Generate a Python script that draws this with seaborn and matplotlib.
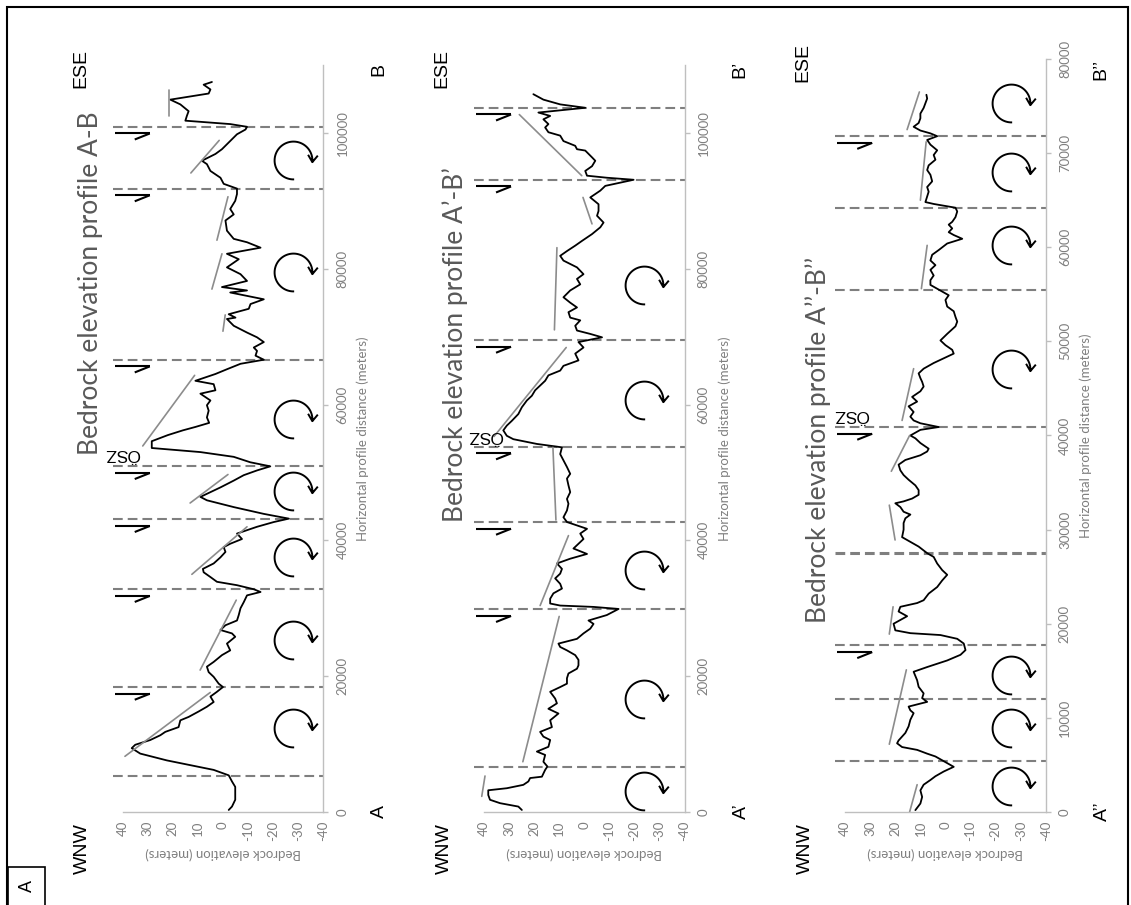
import numpy as np
import matplotlib
matplotlib.use("Agg")
import matplotlib.pyplot as plt
from matplotlib.path import Path
from matplotlib.patches import Rectangle
import seaborn as sns

# ---------------- data (distance in km, elevation in m) ----------------
p1_dist = [0.3,0.8,1.8,3.7,4.5,5.4,6.2,6.7,7.6,8.6,9.4,9.9,10.6,11.3,11.8,12.5,13.5,14.0,14.8,15.5,16.2,17.0,17.7,18.4,18.9,19.9,20.6,21.4,22.1,23.1,23.8,24.8,25.8,26.3,26.8,27.5,28.2,29.0,30.0,30.9,31.9,32.4,32.8,33.4,33.9,34.6,35.3,35.8,36.6,37.5,38.3,39.0,39.5,40.2,41.0,42.0,42.7,43.2,43.9,44.9,45.9,46.4,47.1,47.8,48.8,49.6,50.3,50.9,51.5,52.3,53.0,53.6,54.6,55.5,56.2,56.7,57.3,58.1,59.1,59.9,60.6,61.6,62.1,63.0,63.5,64.5,65.2,66.0,66.6,67.2,67.9,68.4,69.2,69.9,70.6,71.6,72.6,72.8,73.3,74.1,74.8,75.5,76.5,76.8,77.3,78.2,79.2,80.2,80.9,81.4,82.2,83.1,83.9,84.4,85.6,87.1,88.0,88.8,90.0,91.0,91.8,92.5,93.4,94.4,95.4,95.9,96.9,97.6,98.8,99.8,100.5,100.9,101.3,101.8,102.5,103.2,104.2,104.9,105.8,106.4,107.1,107.5]
p1_elev = [-2.3,-3.6,-4.9,-4.9,-3.6,-2.3,3.7,10.4,22.4,33,36.4,35,29,25,23,17.7,17,13.7,9.7,6.4,3.7,5,2.4,0,1.7,3.7,5.7,6.4,3.7,0.4,-2.9,-1.6,-4.9,-3.6,1,-1,-5.6,-6.3,-7,-8.3,-9.6,-15,-12.3,-5.6,2.4,5,7.7,8,3.7,1,-1,-0.3,-2.9,-7.6,-5.6,-13.6,-20.3,-26.3,-16.3,-4.3,6.4,9,5,1,-4.3,-8.3,-13.6,-18.9,-10.9,-4.3,9,28.4,28.4,22,16,11,5.5,6.4,5.7,6.4,5,9,3,3.7,11,3,-1.6,-7,-16.3,-13,-13.6,-12.3,-16.3,-13.6,-9.6,-4.3,-1.6,-5,-2.3,-10.3,-11,-16.3,-2.9,-9.6,0.4,-9.6,-7,-1.6,-4.3,-6.3,-1.6,-15,-9.6,-4.3,-1.6,-1,-4.3,-2.9,-4.9,-5.6,-5.6,-0.3,1,5,6.4,8.4,3,0.4,-2.9,-5.6,-9,-9.6,-2.9,15,14.4,13.7,17,21,5.7,5,7.7,4.4]

p2_dist = [0.3,0.8,1.3,1.8,2.5,3.2,3.5,4.0,4.5,5.0,5.2,6.2,6.7,7.4,8.4,8.9,9.6,10.6,11.1,11.8,12.5,13.5,14.5,15.2,16.0,16.7,17.7,18.4,18.9,19.7,20.4,21.1,21.6,22.4,23.1,23.8,24.3,24.8,25.5,26.3,27.0,27.7,28.2,29.0,29.9,30.2,30.4,30.7,31.4,32.2,32.9,33.6,34.4,35.1,35.8,36.6,37.3,38.0,38.8,39.5,40.2,41.0,41.7,42.7,43.4,44.4,45.4,46.1,47.1,48.1,49.1,49.8,50.8,51.8,52.7,53.7,54.2,54.9,55.4,56.2,56.9,57.6,58.6,59.6,60.6,61.3,62.1,62.8,63.5,64.3,65.0,65.7,66.5,67.5,68.4,69.2,69.9,70.4,70.9,71.6,72.4,72.8,73.6,74.3,75.0,75.8,76.8,77.7,78.5,79.2,80.2,81.2,81.9,82.6,83.4,84.1,85.1,86.1,86.8,87.8,88.5,89.5,90.5,91.5,92.2,93.1,93.4,93.7,94.4,95.1,95.9,96.4,97.4,97.6,98.1,98.8,99.6,100.1,100.8,101.3,102.0,102.5,103.0,103.7,104.2,104.9,105.7]
p2_elev = [24.9,26.3,33.6,37.6,38.3,38.3,30.9,24.3,22.3,21.6,16.9,15.6,14.7,16.3,15.6,18.9,14.3,13.6,16.3,17.6,12.9,13.6,10.3,14.3,10.9,11.6,13.6,9.6,6.9,6.9,6.3,2.9,2.3,2.3,3.6,6.9,9.6,10.3,2.9,0.3,-2.4,-3.7,-1.7,-9,-13.7,-3.7,9.6,13.6,13.6,12.3,8.9,9.6,11.6,9.6,8.9,10.9,5.6,-1.1,4.3,2.3,0.3,1.6,-1.1,6.9,8.3,6.9,6.3,6.9,5.6,6.3,6.9,5.6,6.9,8.3,9.6,8.9,18.9,28.3,30.9,32.3,30.9,28.9,26.3,24.9,22.9,20.9,19.6,17.6,15.6,14.3,9.6,8.3,2.3,3.6,0.3,2.3,-7.1,-2.4,2.9,3.6,1.6,5.6,6.3,2.9,5.6,8.3,5.6,1.6,2.9,0.3,2.9,8.3,9.6,6.9,3.6,0.9,-3.1,-6.4,-7.7,-5.1,-5.7,-5.7,-2.4,-6.4,-8.4,-19.7,-9,-1.1,-0.4,-3.1,-4.4,-3.1,-0.4,2.9,3.6,8.3,9.6,14.3,15.6,14.3,16.3,13.6,18.3,-0.4,9.6,16.3,20.3]

p3_dist = [0.2,0.9,1.6,2.3,2.9,3.4,3.8,4.3,4.8,5.4,5.9,6.2,6.6,6.9,7.3,7.6,8.4,9.1,9.8,10.5,10.8,11.2,11.7,12.1,12.6,13.3,14.0,14.9,15.4,16.1,16.7,17.2,17.9,18.4,18.8,19.0,19.3,20.0,20.4,20.8,21.3,21.8,22.2,22.5,23.2,23.9,24.6,25.2,25.7,26.4,27.1,27.5,28.2,28.7,29.2,30.0,30.7,31.2,31.6,31.9,32.4,32.8,33.0,33.3,33.7,34.2,34.7,35.3,35.8,36.3,36.9,37.4,37.9,38.3,38.6,39.2,39.7,40.0,40.6,40.9,41.3,41.6,42.0,42.5,43.1,43.6,44.1,44.7,45.2,45.7,46.1,46.6,47.1,47.7,48.2,48.7,49.1,49.6,50.1,50.8,51.6,52.1,52.6,53.2,53.7,54.4,54.9,55.5,56.0,56.5,57.0,57.6,58.1,58.6,59.2,59.7,60.4,60.9,61.3,61.6,62.0,62.4,62.7,63.2,63.8,64.2,64.6,64.8,65.4,65.9,66.4,67.0,67.7,68.2,68.7,69.3,69.8,70.3,70.9,71.4,71.8,72.1,72.4,72.8,73.2,73.7,74.2,74.8,75.3,75.8,76.2]
p3_elev = [12,10,9.3,10,8.7,6,4,0.7,-3.3,0.7,4,7.3,11.3,17.3,19.3,18.7,16,14.7,14,12.7,14,14.7,7.3,9.3,8.7,10.7,11.3,12.7,7.3,-0.7,-6,-8,-7.3,-4.7,2,14,20,20.7,18,15.3,18.7,18,11.3,8.7,6.7,3.3,1.3,-0.7,1.3,3.3,4.7,7.3,10.7,14,17.3,16.7,16.7,16,14,16.7,18,20,16.7,13.3,10.7,10.7,12,14.7,16.7,18,18.7,16,10,7.3,6.7,10,12,14,10,2.7,10,12.7,14,12.7,14.7,11.3,13.3,10,8.7,9.3,10,10.7,8.7,4.7,0.7,-3.3,-2.7,0,2,-0.7,-4,-4.7,-4,-3.3,-0.7,0,-1.3,2.7,6,6,4.7,6,4,6,5.3,2.7,-0.7,-6.7,-3.3,-1.3,-2.7,-1.3,-2.7,-4,-4.7,-4,4.7,8,7.3,6.7,7.3,5.3,6,7.3,6.7,4,4.7,3.3,6,7.3,3.3,6,10,12.7,10.7,10,10,8.7,8,7.3,7.6]

# fault positions (km), which of them carry a half-arrow, rotation symbols (km)
p1_faults = [5.34, 18.4, 32.8, 43.1, 50.9, 66.6, 91.8, 100.9]
p1_arrows = [18.4, 32.8, 43.1, 50.9, 66.6, 91.8, 100.9]
p1_rot = [12.3, 25.3, 37.5, 47.3, 57.9, 79.5, 96.0]
p2_faults = [6.67, 29.85, 42.7, 53.8, 69.5, 93.1, 103.7]
p2_arrows = [29.85, 42.7, 53.8, 69.5, 93.1, 103.7]
p2_rot = [3.1, 16.6, 35.6, 60.7, 77.6]
p3_faults = [5.4, 12.0, 17.7, 27.5, 40.9, 55.5, 64.2, 71.8]
p3_arrows = [17.7, 40.9, 71.8]
p3_rot = [2.8, 8.9, 14.6, 47.1, 60.2, 68.0, 75.3]

# grey tilt lines: start dist, start elev, end dist, end elev
p1_tilt_d0 = [8.2, 20.9, 35.0, 45.5, 53.9, 70.8, 77.0, 84.2, 94.1, 102.5]
p1_tilt_e0 = [39.1, 9.1, 12.4, 13.1, 32.0, 0.0, 4.4, 2.4, 12.8, 21.5]
p1_tilt_d1 = [17.6, 31.2, 42.0, 49.7, 64.3, 73.2, 82.2, 90.6, 98.9, 106.3]
p1_tilt_e1 = [5.1, -5.3, -9.6, -2.0, 11.3, -0.9, 0.4, -2.0, 1.5, 21.5]
p2_tilt_d0 = [2.3, 7.4, 30.4, 43.0, 55.3, 71.0, 86.6, 93.7]
p2_tilt_e0 = [40.9, 24.5, 17.6, 11.3, 36.0, 11.9, -3.1, 1.0]
p2_tilt_d1 = [5.3, 28.8, 40.7, 53.7, 68.4, 83.1, 90.5, 102.7]
p2_tilt_e1 = [39.6, 10.0, 6.3, 12.5, 7.2, 10.9, 0.5, 25.9]
p3_tilt_d0 = [0.0, 7.2, 18.9, 28.9, 36.2, 41.6, 55.6, 65.0, 72.5]
p3_tilt_e0 = [14.3, 22.4, 22.4, 20.1, 21.6, 17.3, 9.6, 10.0, 15.3]
p3_tilt_d1 = [2.9, 15.1, 21.8, 32.6, 40.0, 47.1, 60.2, 71.2, 76.5]
p3_tilt_e1 = [11.3, 15.6, 20.9, 22.4, 14.3, 12.7, 7.3, 7.7, 10.4]

# shear-zone label positions (km, m)
osz_dist = [52.8, 55.4, 42.2]
osz_elev = [40.3, 39.6, 37.7]

titles = ["Bedrock elevation profile A-B", "Bedrock elevation profile A\u2019-B\u2019",
          "Bedrock elevation profile A\u2019\u2019-B\u2019\u2019"]
start_labels = ["A", "A\u2019", "A\u2019\u2019"]
end_labels = ["B", "B\u2019", "B\u2019\u2019"]
elev_ticks = [40, 30, 20, 10, 0, -10, -20, -30, -40]
dist_ticks_long = [0, 20000, 40000, 60000, 80000, 100000]
dist_ticks_short = [0, 10000, 20000, 30000, 40000, 50000, 60000, 70000, 80000]

# ---------------- style ----------------
sns.set_theme(style="white")
plt.rcParams["font.family"] = ["Lato", "DejaVu Sans"]
plt.rcParams["lines.scale_dashes"] = False

W, H = 1131, 905
fig = plt.figure(figsize=(W / 100, H / 100), dpi=100)
fig.patch.set_facecolor("white")

def fx(x):
    return x / W

def fy(y):
    return 1 - y / H

AXGREY = "#bfbfbf"
TXTGREY = "#7f7f7f"
DASHGREY = "#7f7f7f"
TILTGREY = "#8c8c8c"

# rotation symbol as marker path (clockwise open circle arrow)
ang = np.radians(np.linspace(272, -5, 60))
arc = np.column_stack([np.cos(ang), np.sin(ang)])
tip = arc[-1]
back = np.array([0.087, 0.996])
def rot(v, a):
    a = np.radians(a)
    return np.array([v[0] * np.cos(a) - v[1] * np.sin(a), v[0] * np.sin(a) + v[1] * np.cos(a)])
b1 = tip + 0.45 * rot(back, 35)
b2 = tip + 0.45 * rot(back, -35)
verts = np.vstack([arc, b1, tip, b2])
codes = [Path.MOVETO] + [Path.LINETO] * (len(arc) - 1) + [Path.MOVETO, Path.LINETO, Path.LINETO]
rot_marker = Path(verts, codes)

panels = [
    dict(left=122.7, top=65, bottom=812, ymax=110000, ticks=dist_ticks_long,
         dist=p1_dist, elev=p1_elev, faults=p1_faults, arrows=p1_arrows, rot=p1_rot, rot_e=-28,
         td0=p1_tilt_d0, te0=p1_tilt_e0, td1=p1_tilt_d1, te1=p1_tilt_e1),
    dict(left=484.0, top=65, bottom=812, ymax=110000, ticks=dist_ticks_long,
         dist=p2_dist, elev=p2_elev, faults=p2_faults, arrows=p2_arrows, rot=p2_rot, rot_e=-24,
         td0=p2_tilt_d0, te0=p2_tilt_e0, td1=p2_tilt_d1, te1=p2_tilt_e1),
    dict(left=845.2, top=59, bottom=812, ymax=80000, ticks=dist_ticks_short,
         dist=p3_dist, elev=p3_elev, faults=p3_faults, arrows=p3_arrows, rot=p3_rot, rot_e=-26,
         td0=p3_tilt_d0, te0=p3_tilt_e0, td1=p3_tilt_d1, te1=p3_tilt_e1),
]

title_pos = [(91, 283), (455, 345), (818, 440)]

for i, P in enumerate(panels):
    ax = fig.add_axes([fx(P["left"]), fy(P["bottom"]), 200.5 / W, (P["bottom"] - P["top"]) / H])
    ax.set_facecolor("white")
    px_per_m = (P["bottom"] - P["top"]) / P["ymax"]

    d = np.array(P["dist"]) * 1000
    e = np.array(P["elev"])
    sns.lineplot(x=e, y=d, orient="y", sort=False, estimator=None, color="black",
                 linewidth=1.3, ax=ax, legend=False)

    # faults (dashed)
    for fd in P["faults"]:
        lw = 2.2 if (i == 2 and abs(fd - 27.5) < 0.1) else 1.5
        ax.plot([44, -40], [fd * 1000, fd * 1000], color=DASHGREY, lw=lw,
                dashes=(7, 3.6), clip_on=False, zorder=1)
    # half-arrows
    off1 = 6.7 / px_per_m
    off2 = 12.7 / px_per_m
    for ad in P["arrows"]:
        y0 = ad * 1000 - off1
        ax.plot([43.2, 29.2], [y0, y0], color="black", lw=1.5, clip_on=False,
                solid_capstyle="butt")
        ax.plot([29.2, 35.2], [y0, ad * 1000 - off2], color="black", lw=1.5, clip_on=False,
                solid_capstyle="butt")
    # tilt lines
    for a0, b0, a1, b1_ in zip(P["td0"], P["te0"], P["td1"], P["te1"]):
        ax.plot([b0, b1_], [a0 * 1000, a1 * 1000], color=TILTGREY, lw=1.2, clip_on=False)
    # rotation symbols
    rd = np.array(P["rot"]) * 1000
    ax.plot(np.full(len(rd), P["rot_e"]), rd, ls="none", marker=rot_marker, ms=35,
            mfc="none", mec="black", mew=1.4)
    # shear zone label
    ax.text(osz_elev[i], osz_dist[i] * 1000, "\u00d6SZ", rotation=180, ha="center", va="center",
            fontsize=12.5, color="black", family=["Liberation Sans", "DejaVu Sans"])

    ax.set_xlim(40, -40)
    ax.set_ylim(0, P["ymax"])
    ax.set_xticks(elev_ticks)
    ax.set_xticklabels([str(t) for t in elev_ticks], rotation=90)
    ax.set_yticks(P["ticks"])
    ax.set_yticklabels([str(t) for t in P["ticks"]], rotation=90, va="center")
    ax.yaxis.tick_right()
    ax.yaxis.set_label_position("right")
    for s in ["left", "top"]:
        ax.spines[s].set_visible(False)
    for s in ["right", "bottom"]:
        ax.spines[s].set_color(AXGREY)
        ax.spines[s].set_linewidth(1.0)
    ax.tick_params(axis="both", which="both", direction="out", length=3.5, width=1.0,
                   color=AXGREY, labelcolor=TXTGREY, labelsize=9.5)
    ax.tick_params(axis="x", pad=3)
    ax.tick_params(axis="y", pad=6)
    ax.set_xlabel("Bedrock elevation (meters)", rotation=180, color=TXTGREY, fontsize=9.5,
                  labelpad=4)
    ax.set_ylabel("Horizontal profile distance (meters)", rotation=90, color=TXTGREY,
                  fontsize=9.5, labelpad=6)
    ax.grid(False)

    # direction and end labels
    L = P["left"]
    fig.text(fx(L - 40), fy(849), "WNW", rotation=90, ha="center", va="center",
             fontsize=14, family=["Liberation Sans", "DejaVu Sans"], color="black")
    fig.text(fx(L - 42), fy(P["top"] + 4), "ESE", rotation=90, ha="center", va="center",
             fontsize=14, family=["Liberation Sans", "DejaVu Sans"], color="black")
    fig.text(fx(L + 257), fy(811), start_labels[i], rotation=90, ha="center", va="center",
             fontsize=14, family=["Liberation Sans", "DejaVu Sans"], color="black")
    fig.text(fx(L + 256), fy(69), end_labels[i], rotation=90, ha="center", va="center",
             fontsize=14, family=["Liberation Sans", "DejaVu Sans"], color="black")
    tx, ty = title_pos[i]
    fig.text(fx(tx), fy(ty), titles[i], rotation=90, ha="center", va="center",
             fontsize=19, color="#595959")

# outer frame and panel letter box
fig.patches.append(Rectangle((fx(7), -0.02), (1128 - 7) / W, fy(7) + 0.02, fill=False,
                             lw=1.5, edgecolor="black", transform=fig.transFigure))
fig.patches.append(Rectangle((fx(8), -0.02), 37 / W, 38 / H + 0.02, fill=False,
                             lw=1.2, edgecolor="black", transform=fig.transFigure))
fig.text(fx(27), fy(886), "A", rotation=90, ha="center", va="center", fontsize=13,
         family=["Liberation Sans", "DejaVu Sans"], color="black")

fig.savefig("out.png", dpi=100, facecolor="white")
